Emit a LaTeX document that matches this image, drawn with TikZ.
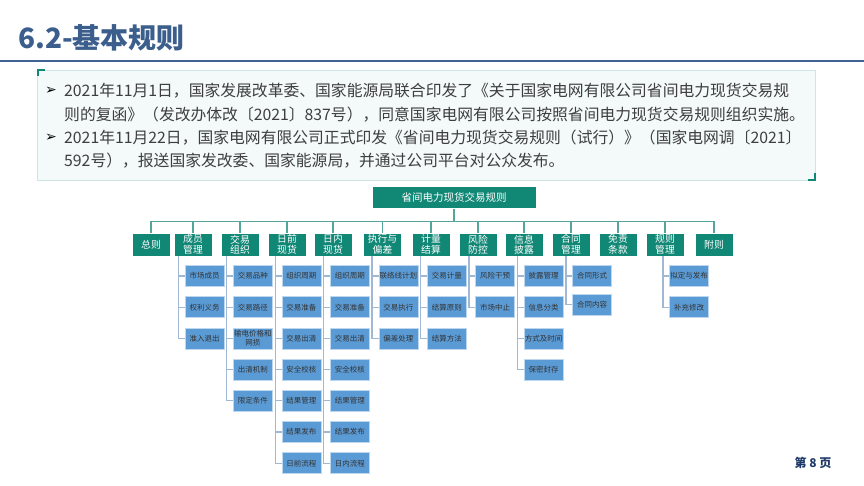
\documentclass[tikz,border=0pt]{standalone}
\usepackage{fontspec}
\setmainfont{Noto Sans CJK SC}
\newfontfamily\dejavu{DejaVu Sans}
\usetikzlibrary{calc}
\definecolor{titleblue}{RGB}{59,94,140}
\definecolor{rulecol}{RGB}{64,99,146}
\definecolor{tealbox}{RGB}{17,135,118}
\definecolor{boxfill}{RGB}{243,250,249}
\definecolor{boxline}{RGB}{205,230,228}
\definecolor{childblue}{RGB}{91,155,213}
\definecolor{childline}{RGB}{160,184,212}
\definecolor{busline}{RGB}{84,166,156}
\definecolor{txtgray}{RGB}{62,62,62}
\definecolor{pagecol}{RGB}{31,58,104}
\begin{document}
\begin{tikzpicture}[x=1pt,y=-1pt,
  cat/.style={draw=white, line width=0.6pt, fill=tealbox, text=white, minimum width=38pt, minimum height=23pt, inner sep=0pt, align=center, font=\fontsize{9.8}{10.5}\selectfont},
  kid/.style={draw=childblue!40!white, line width=0.6pt, fill=childblue, text=black!80, minimum width=39pt, minimum height=21pt, inner sep=0pt, align=center, font=\fontsize{7.5}{8.5}\selectfont},
  bus/.style={draw=busline, line width=1.3pt},
  kidline/.style={draw=childline, line width=1.3pt},
  para/.style={anchor=west, inner sep=0pt, text=txtgray, font=\fontsize{15.8}{18}\selectfont},
  bullet/.style={inner sep=0pt, text=black, font=\dejavu\fontsize{14}{15}\selectfont}
]
\useasboundingbox (0,0) rectangle (864,486);
\fill[white] (0,0) rectangle (864,486);
% title
\node[anchor=west, inner sep=0pt, text=titleblue, font=\fontsize{28}{30}\selectfont\bfseries] (title) at (18,38) {6.2-基本规则};
\draw[rulecol, line width=2.2pt] (0,61) -- (864,61);
% text box
\draw[boxline, fill=boxfill, line width=0.8pt] (37,70) rectangle (815,180);
\draw[tealbox, line width=2pt] (37.5,76.5) -- (37.5,70.5) -- (45,70.5);
\draw[tealbox, line width=2pt] (808,180) -- (814.5,180) -- (814.5,173.5);
\node[bullet] (b1) at (51,91) {➢};
\node[bullet] (b2) at (51,138) {➢};
\node[para] (l1) at (64,91) {2021年11月1日，国家发展改革委、国家能源局联合印发了《关于国家电网有限公司省间电力现货交易规};
\node[para] (l2) at (64,115) {则的复函》（发改办体改〔2021〕837号），同意国家电网有限公司按照省间电力现货交易规则组织实施。};
\node[para] (l3) at (64,138) {2021年11月22日，国家电网有限公司正式印发《省间电力现货交易规则（试行）》（国家电网调〔2021〕};
\node[para] (l4) at (64,161) {592号），报送国家发改委、国家能源局，并通过公司平台对公众发布。};
% root
\node[draw=white, line width=0.6pt, fill=tealbox, text=white, minimum width=164pt, minimum height=21.5pt, inner sep=0pt, font=\fontsize{10.5}{12}\selectfont] (root) at (454,197.5) {省间电力现货交易规则};
\coordinate (bj) at ($(root.south)+(0,13)$);
% categories
\node[cat] (p1) at (151,244.5) {总则};
\node[cat] (p2) at (193,244.5) {成员\\管理};
\node[cat] (p3) at (240,244.5) {交易\\组织};
\node[cat] (p4) at (287,244.5) {日前\\现货};
\node[cat] (p5) at (333,244.5) {日内\\现货};
\node[cat] (p6) at (382.5,244.5) {执行与\\偏差};
\node[cat] (p7) at (431,244.5) {计量\\结算};
\node[cat] (p8) at (478,244.5) {风险\\防控};
\node[cat] (p9) at (524,244.5) {信息\\披露};
\node[cat] (p10) at (571,244.5) {合同\\管理};
\node[cat] (p11) at (618,244.5) {免责\\条款};
\node[cat] (p12) at (665,244.5) {规则\\管理};
\node[cat] (p13) at (714,244.5) {附则};
\draw[bus] (root.south) -- (bj);
\foreach \p in {p1,p2,p3,p4,p5,p6,p7,p8,p9,p10,p11,p12,p13}
  \draw[bus] (bj) -| (\p.north);
% children
\foreach \p/\cx/\vx/\items in {
  p2/204.5/178.3/{市场成员,权利义务,准入退出},
  p3/252.95/226.75/{交易品种,交易路径,输电价格和\\网损,出清机制,限定条件},
  p4/301.4/275.2/{组织周期,交易准备,交易出清,安全校核,结果管理,结果发布,日前流程},
  p5/349.85/323.65/{组织周期,交易准备,交易出清,安全校核,结果管理,结果发布,日内流程},
  p6/398.3/372.1/{联络线计划,交易执行,偏差处理},
  p7/446.75/420.55/{交易计量,结算原则,结算方法},
  p8/495.2/469/{风险干预,市场中止},
  p9/543.65/517.45/{披露管理,信息分类,方式及时间,保密封存},
  p12/689/663/{拟定与发布,补充修改}}{
  \coordinate (\p v) at (\vx,0);
  \foreach \t [count=\i from 0] in \items {
    \node[kid] (\p c\i) at (\cx,276+31.2*\i) {\t};
    \draw[kidline] (\p v |- \p.south) |- (\p c\i.west);
  }
}
% contract children (closer spacing)
\coordinate (p10v) at (565.9,0);
\node[kid] (p10c0) at (592.1,276) {合同形式};
\node[kid] (p10c1) at (592.1,304.7) {合同内容};
\draw[kidline] (p10v |- p10.south) |- (p10c0.west);
\draw[kidline] (p10v |- p10.south) |- (p10c1.west);
% page number
\node[inner sep=0pt, text=pagecol, font=\fontsize{12}{14}\selectfont\bfseries] (page) at (813,463) {第 8 页};
\end{tikzpicture}
\end{document}
